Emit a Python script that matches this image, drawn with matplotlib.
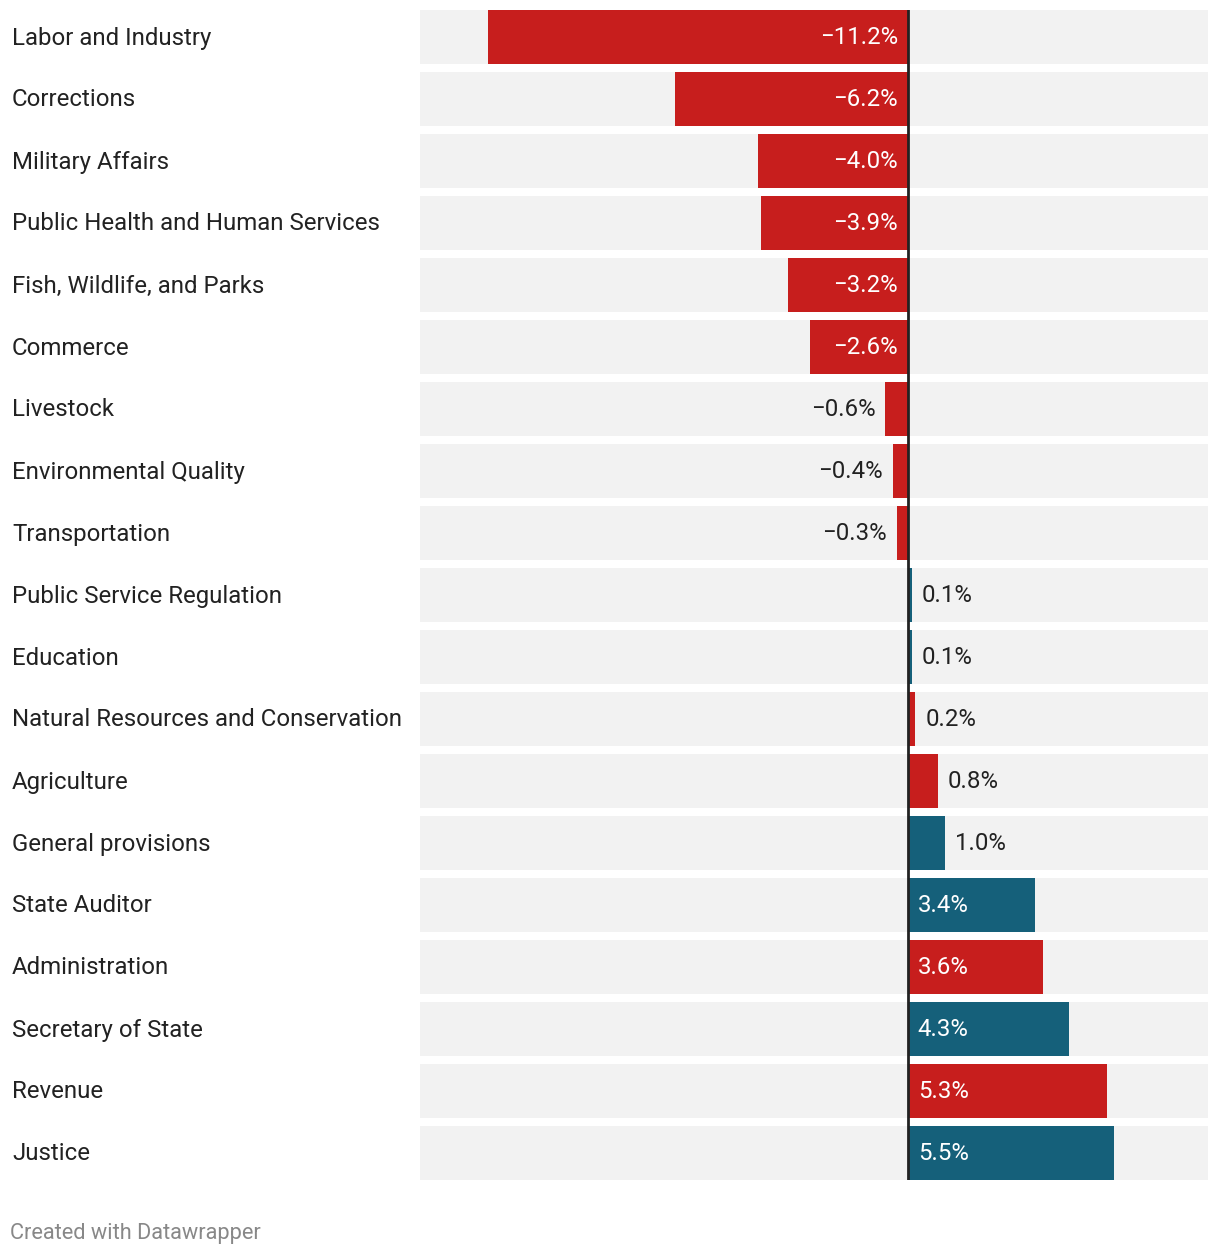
import matplotlib
matplotlib.use("Agg")
import matplotlib.pyplot as plt

categories = ["Labor and Industry", "Corrections", "Military Affairs",
              "Public Health and Human Services", "Fish, Wildlife, and Parks",
              "Commerce", "Livestock", "Environmental Quality", "Transportation",
              "Public Service Regulation", "Education",
              "Natural Resources and Conservation", "Agriculture",
              "General provisions", "State Auditor", "Administration",
              "Secretary of State", "Revenue", "Justice"]
values = [-11.2, -6.2, -4.0, -3.9, -3.2, -2.6, -0.6, -0.4, -0.3,
          0.1, 0.1, 0.2, 0.8, 1.0, 3.4, 3.6, 4.3, 5.3, 5.5]
groups = ["r", "r", "r", "r", "r", "r", "r", "r", "r",
          "b", "b", "r", "r", "b", "b", "r", "b", "r", "b"]

RED = "#c71e1d"
BLUE = "#15607a"
BG = "#f2f2f2"
color_map = {"r": RED, "b": BLUE}

plt.rcParams["font.family"] = ["Roboto", "DejaVu Sans"]

W, H = 1220, 1256
fig = plt.figure(figsize=(W / 100, H / 100), dpi=100)
fig.patch.set_facecolor("white")
ax = fig.add_axes([420 / W, 1 - 1180 / H, (1208 - 420) / W, 1170 / H])

xmin, xmax = -13.0, 8.0
bh = 54 / 62
n = len(categories)
ys = list(range(n))

ax.barh(ys, [xmax - xmin] * n, left=xmin, height=bh, color=BG, zorder=1)
ax.barh(ys, values, height=bh, color=[color_map[g] for g in groups], zorder=2)
ax.axvline(0, color="#222222", lw=2, zorder=3)

ax.set_xlim(xmin, xmax)
ax.set_ylim(n - 1 + bh / 2, -bh / 2)
ax.axis("off")

FS = 17.3
px = (xmax - xmin) / (1208 - 420)
dy = 1 / 62
for y, v in zip(ys, values):
    txt = ("\u2212" if v < 0 else "") + f"{abs(v):.1f}%"
    inside = abs(v) >= 2
    if v < 0:
        if inside:
            ax.text(-10 * px, y + dy, txt, ha="right", va="center", color="white",
                    fontsize=FS, zorder=4)
        else:
            ax.text(v - 10 * px, y + dy, txt, ha="right", va="center",
                    color="#222222", fontsize=FS, zorder=4)
    else:
        if inside:
            ax.text(10 * px, y + dy, txt, ha="left", va="center", color="white",
                    fontsize=FS, zorder=4)
        else:
            ax.text(v + 10 * px, y + dy, txt, ha="left", va="center",
                    color="#222222", fontsize=FS, zorder=4)

for y, c in zip(ys, categories):
    yf = 1 - (38 + 62 * y) / H
    fig.text(12 / W, yf, c, ha="left", va="center", color="#222222",
             fontsize=FS)

fig.text(10 / W, 1 - 1233 / H, "Created with Datawrapper", ha="left",
         va="center", color="#888888", fontsize=15.7)

fig.savefig("out.png", dpi=100, facecolor="white")
